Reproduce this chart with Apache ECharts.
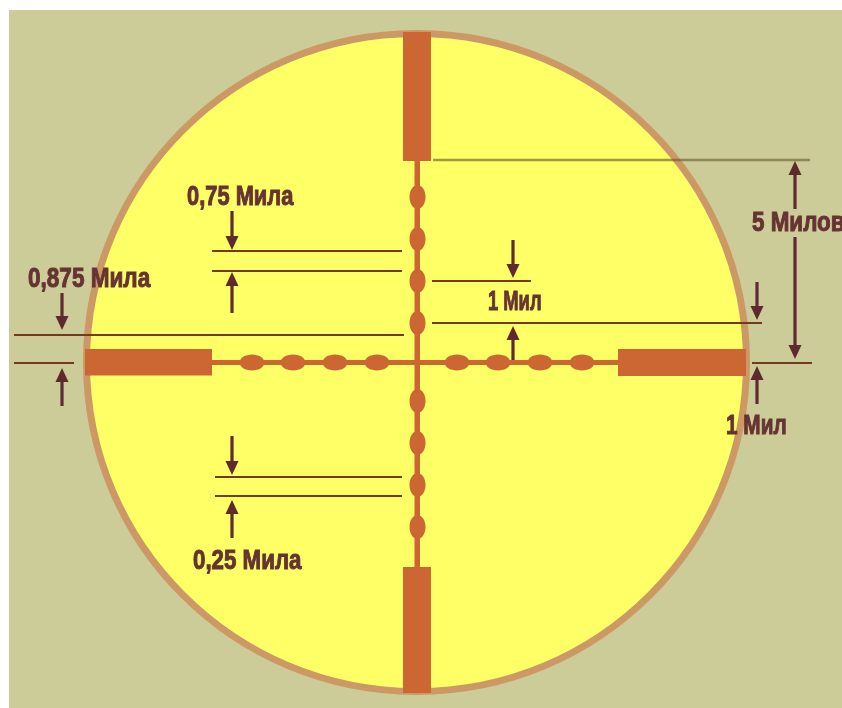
<!DOCTYPE html>
<html><head><meta charset="utf-8">
<style>html,body{margin:0;padding:0;background:#fff}#c{width:842px;height:708px}</style>
<script src="https://cdn.jsdelivr.net/npm/echarts@6/dist/echarts.min.js"></script>
</head><body><div id="c"></div>
<script>
// All values, in reference-image units (x, y).
const field = [[9, 10, 842, 708]];
const scope = [[416.5, 362.5, 330, 329]];
const thickPosts = [[403, 32, 431, 161], [403, 567, 431, 693], [85, 349, 212, 375.5], [618, 349, 746, 376]];
const thinWires = [[414.5, 161, 420, 567], [212, 360, 618, 365]];
const verticalDots = [197, 239, 281, 323, 401, 443, 485, 527];
const horizontalDots = [252, 293, 335, 377, 457, 498, 540, 582];
const measureLines = [
  [212, 251, 402], [212, 271, 402],
  [14, 335, 404], [14, 363, 74],
  [215, 477, 402], [215, 496, 402],
  [432, 281, 531], [432, 323, 762], [752, 363, 812]
];
const faintLines = [[433, 160, 810]];
const arrows = [
  [232, 211, 250], [232, 313, 272],
  [62, 293, 330], [62, 406, 368],
  [513, 240, 278], [513, 360, 326],
  [795, 209, 161], [795, 237, 359],
  [757, 282, 320], [757, 404, 366],
  [232, 436, 475], [232, 538, 500]
];
const labelTexts = ['0,75 Мила', '0,875 Мила', '1 Мил', '5 Милов', '1 Мил', '0,25 Мила'];
const labelLeft = [187, 28, 488, 752, 726, 193];
const labelMiddle = [198, 279.5, 303, 224, 427, 562];
const labelStretch = [0.81, 0.835, 0.68, 0.83, 0.77, 0.826];

const INK = '#663333', ORANGE = '#CC6633';
const pt = (api, x, y) => api.coord([x, y]);

function rectItem(fill) {
  return (p, api) => {
    const a = pt(api, api.value(0), api.value(1)), b = pt(api, api.value(2), api.value(3));
    return {type: 'rect', shape: {x: a[0], y: a[1], width: b[0] - a[0], height: b[1] - a[1]}, style: {fill}};
  };
}
function hLineItem(stroke, lineWidth) {
  return (p, api) => {
    const a = pt(api, api.value(0), api.value(1)), b = pt(api, api.value(2), api.value(1));
    return {type: 'line', shape: {x1: a[0], y1: a[1], x2: b[0], y2: b[1]}, style: {stroke, lineWidth}};
  };
}
const base = {type: 'custom', coordinateSystem: 'cartesian2d', silent: true, clip: false, animation: false};

const option = {
  animation: false,
  backgroundColor: '#fff',
  grid: {left: 0, right: 0, top: 0, bottom: 0},
  xAxis: {type: 'value', min: 0, max: 842, show: false},
  yAxis: {type: 'value', min: 0, max: 708, inverse: true, show: false},
  series: [
    {...base, data: field, renderItem: rectItem('#CCCC99')},
    {...base, data: scope, renderItem: (p, api) => {
      const c = pt(api, api.value(0), api.value(1));
      const s = api.size([api.value(2), api.value(3)]);
      return {type: 'ellipse', shape: {cx: c[0], cy: c[1], rx: s[0], ry: s[1]},
        style: {fill: '#FFFF66', stroke: '#CC9966', lineWidth: 7}};
    }},
    {...base, data: thinWires, renderItem: rectItem(ORANGE)},
    {...base, data: thickPosts, renderItem: rectItem(ORANGE)},
    {...base, data: verticalDots.map(y => [417.5, y]), renderItem: (p, api) => {
      const c = pt(api, api.value(0), api.value(1));
      return {type: 'ellipse', shape: {cx: c[0], cy: c[1], rx: 8, ry: 12}, style: {fill: ORANGE}};
    }},
    {...base, data: horizontalDots.map(x => [x, 362.5]), renderItem: (p, api) => {
      const c = pt(api, api.value(0), api.value(1));
      return {type: 'ellipse', shape: {cx: c[0], cy: c[1], rx: 12.5, ry: 8}, style: {fill: ORANGE}};
    }},
    {...base, data: measureLines, renderItem: hLineItem('#74391F', 2)},
    {...base, data: faintLines, renderItem: hLineItem('rgba(102,85,40,0.6)', 2.4)},
    {...base, data: arrows, renderItem: (p, api) => {
      const x = api.value(0), y0 = api.value(1), y1 = api.value(2);
      const dir = y1 > y0 ? 1 : -1;
      const a = pt(api, x, y0), b = pt(api, x, y1), n = pt(api, x, y1 - dir * 14);
      return {type: 'group', children: [
        {type: 'line', shape: {x1: a[0], y1: a[1], x2: n[0], y2: n[1]}, style: {stroke: '#5F2A33', lineWidth: 3.2}},
        {type: 'polygon', shape: {points: [[b[0], b[1]], [n[0] - 6.5, n[1]], [n[0] + 6.5, n[1]]]}, style: {fill: '#5F2A2D'}}
      ]};
    }},
    {...base, data: labelTexts.map((t, i) => [labelLeft[i], labelMiddle[i], labelStretch[i], t]), renderItem: (p, api) => {
      const c = pt(api, api.value(0), api.value(1));
      return {type: 'text', x: c[0], y: c[1], scaleX: api.value(2), scaleY: 1, style: {
        text: labelTexts[p.dataIndex], x: 0, y: 0, fill: INK, stroke: INK, lineWidth: 1,
        font: 'bold 27px "Liberation Sans", sans-serif',
        textAlign: 'left', textVerticalAlign: 'middle'
      }};
    }}
  ]
};
echarts.init(document.getElementById('c'), null, {renderer: 'canvas'}).setOption(option);
</script></body></html>
